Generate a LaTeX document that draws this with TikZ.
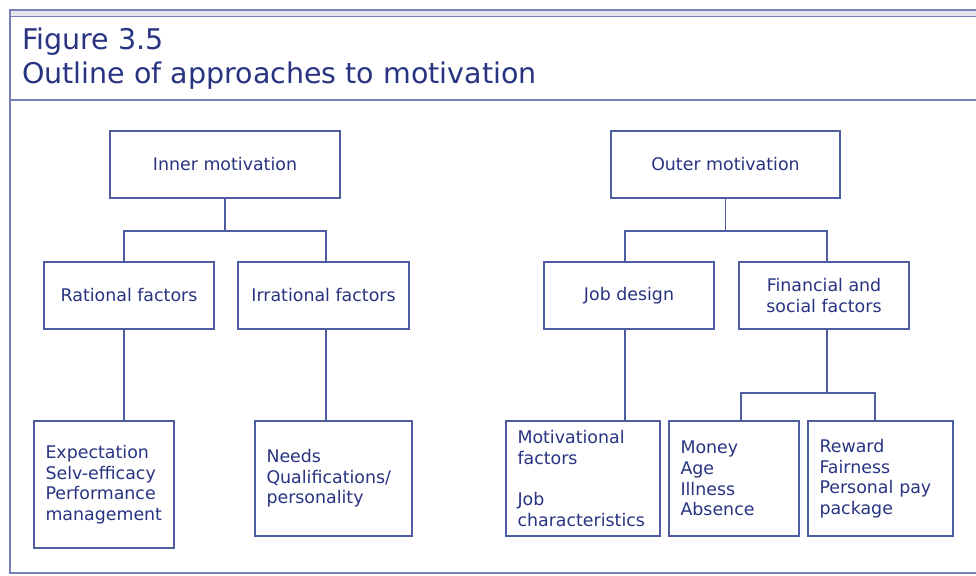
\documentclass[tikz,border=0pt]{standalone}
\usepackage{fontspec}
\setmainfont{DejaVu Sans}
\usepackage{xcolor}
\definecolor{ink}{RGB}{40,52,130}
\definecolor{boxline}{RGB}{78,92,162}
\definecolor{frameline}{RGB}{118,128,182}
\definecolor{band}{RGB}{228,229,236}
\newcommand{\boxfont}{\fontsize{17.4}{20.6}\selectfont}
\newcommand{\titlefont}{\fontsize{28.5}{34}\selectfont}

\begin{document}
\begin{tikzpicture}[x=1pt,y=-1pt,
    box/.style={draw=boxline,line width=1.2pt,text=ink,font=\boxfont,inner xsep=11.5pt,inner ysep=0pt,align=center},
    list/.style={box,align=left},
    link/.style={draw=boxline,line width=1.2pt}]
                \useasboundingbox (0,0) rectangle (976,575);
                \fill[white] (0,0) rectangle (976,575);
                % frame
                \fill[band] (10,10) rectangle (976,16);
                \draw[frameline,line width=1.2pt] (976,10) -- (10,10) -- (10,573) -- (976,573);
                \draw[frameline,line width=0.8pt] (10,16) -- (976,16);
                \draw[frameline,line width=1.6pt] (10,100) -- (976,100);
                \node[anchor=base west,inner sep=0pt,text=ink,font=\titlefont] (figno) at (22,50) {Figure 3.5};
                \node[anchor=base west,inner sep=0pt,text=ink,font=\titlefont] (caption) at (22,84) {Outline of approaches to motivation};
                % top row
                \node[box,minimum width=230pt,minimum height=67pt] (inner) at (225,164.5) {Inner motivation};
                \node[box,minimum width=229pt,minimum height=67pt] (outer) at (725.5,164.5) {Outer motivation};
                % middle row
                \node[box,minimum width=170pt,minimum height=67pt] (rational) at (129,295.5) {Rational factors};
                \node[box,minimum width=171pt,minimum height=67pt] (irrational) at (323.5,295.5) {Irrational factors};
                \node[box,minimum width=170pt,minimum height=67pt] (jobdesign) at (629,295.5) {Job design};
                \node[box,minimum width=170pt,minimum height=67pt] (financial) at (824,295.5) {Financial and\\social factors};
                % bottom row
                \node[list,text width=117pt,minimum height=127pt] (expect) at (104,484.5) {Expectation\\Selv-efficacy\\Performance\\management};
                \node[list,text width=134pt,minimum height=115pt] (needs) at (333.5,478.5) {Needs\\Qualifications/\\personality};
                \node[list,text width=131pt,minimum height=115pt] (motiv) at (583,478.5) {Motivational\\factors\\[20.6pt]Job\\characteristics};
                \node[list,text width=107pt,minimum height=115pt] (money) at (734,478.5) {Money\\Age\\Illness\\Absence};
                \node[list,text width=122pt,minimum height=115pt] (reward) at (880.5,478.5) {Reward\\Fairness\\Personal pay\\package};
                % connectors
                \coordinate (innerL) at (124,231);
                \coordinate (innerR) at (326,231);
                \coordinate (outerL) at (625,231);
                \coordinate (outerR) at (827,231);
                \coordinate (finL) at (741,393);
                \coordinate (finR) at (875,393);
                \draw[link] (inner.south) -- (inner.south |- innerL);
                \draw[link] (innerL |- rational.north) -- (innerL) -- (innerR) -- (innerR |- irrational.north);
                \draw[link] (innerL |- rational.south) -- (innerL |- expect.north);
                \draw[link] (innerR |- irrational.south) -- (innerR |- needs.north);
                \draw[link] (outer.south) -- (outer.south |- outerL);
                \draw[link] (outerL |- jobdesign.north) -- (outerL) -- (outerR) -- (outerR |- financial.north);
                \draw[link] (outerL |- jobdesign.south) -- (outerL |- motiv.north);
                \draw[link] (outerR |- financial.south) -- (outerR |- finL);
                \draw[link] (finL |- money.north) -- (finL) -- (finR) -- (finR |- reward.north);
\end{tikzpicture}
\end{document}
